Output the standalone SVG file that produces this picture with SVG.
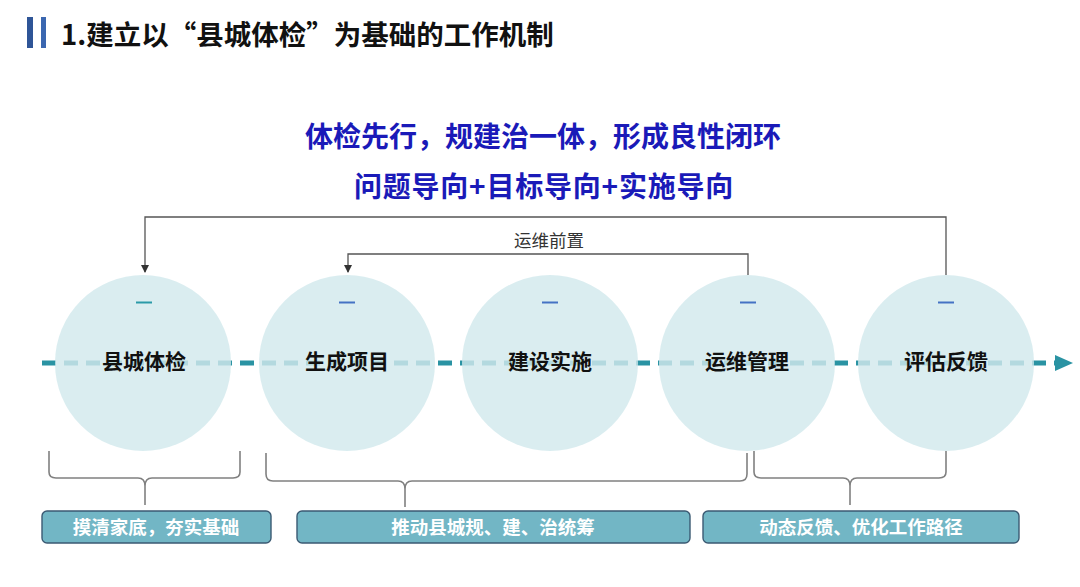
<svg xmlns="http://www.w3.org/2000/svg" width="1080" height="587" viewBox="0 0 1080 587">
<style>
.cjk{font-family:"Noto Sans CJK SC","Noto Sans",sans-serif}
.title{font-size:27.5px;font-weight:700;fill:#111}
.head{font-size:28px;font-weight:700;fill:#1a1ab8;text-anchor:middle}
.node circle{fill:rgb(210,233,237);fill-opacity:0.82}
.lbl{font-size:21px;font-weight:700;fill:#111;text-anchor:middle}
.mark{stroke:#4472c4;stroke-width:2}
.fb{fill:none;stroke:#555;stroke-width:1.3}
.brace{fill:none;stroke:#808080;stroke-width:1.6}
.box rect{fill:#72b6c5;stroke:#3b5a73;stroke-width:1.4}
.btxt{font-size:18.5px;font-weight:700;fill:#fff;text-anchor:middle}
</style>
<defs>
<marker id="ah" markerWidth="8" markerHeight="8" refX="7" refY="4" orient="auto" markerUnits="userSpaceOnUse">
<path d="M0,0 L8,4 L0,8 Z" fill="#333"/>
</marker>
</defs>
<rect width="1080" height="587" fill="#fff"/>
<g id="title">
<rect x="27" y="17" width="6" height="31" fill="#2f5597"/>
<rect x="41" y="17" width="5" height="31" fill="#3b67b0"/>
<text class="cjk title" x="61" y="45">1.建立以“县城体检”为基础的工作机制</text>
</g>
<g id="headings">
<text class="cjk head" x="543" y="147">体检先行，规建治一体，形成良性闭环</text>
<text class="cjk head" x="544" y="197" letter-spacing="0.8">问题导向+目标导向+实施导向</text>
</g>
<g id="connectors">
<line x1="42" y1="363" x2="1058" y2="363" stroke="#2a93a3" stroke-width="5" stroke-dasharray="14 8"/>
<path d="M1055,355 L1073,363 L1055,371 Z" fill="#2a93a3"/>
<path class="fb" d="M946,275 V217 H145 V272" marker-end="url(#ah)"/>
<path class="fb" d="M748,275 V254 H348 V272" marker-end="url(#ah)"/>
<text class="cjk" x="549" y="247" font-size="17.5" fill="#333" text-anchor="middle">运维前置</text>
</g>
<g id="n1" class="node"><circle cx="143" cy="363" r="88"/><line x1="136" y1="302.5" x2="152" y2="302.5" stroke="#2a9aa8" stroke-width="2"/><text class="cjk lbl" x="144" y="369">县城体检</text></g>
<g id="n2" class="node"><circle cx="347" cy="363" r="88"/><line class="mark" x1="339" y1="302.5" x2="355" y2="302.5"/><text class="cjk lbl" x="347" y="369">生成项目</text></g>
<g id="n3" class="node"><circle cx="550" cy="363" r="88"/><line class="mark" x1="542" y1="302.5" x2="558" y2="302.5"/><text class="cjk lbl" x="550" y="369">建设实施</text></g>
<g id="n4" class="node"><circle cx="747" cy="363" r="88"/><line class="mark" x1="740" y1="302.5" x2="756" y2="302.5"/><text class="cjk lbl" x="747" y="369">运维管理</text></g>
<g id="n5" class="node"><circle cx="946" cy="363" r="88"/><line class="mark" x1="938" y1="302.5" x2="954" y2="302.5"/><text class="cjk lbl" x="946" y="369">评估反馈</text></g>
<g id="braces">
<path class="brace" d="M49,451 V472 Q49,478 56,478 H138 Q145,478 145,486 V505 M145,486 Q145,478 152,478 H233 Q240,478 240,472 V451"/>
<path class="brace" d="M266,453 V474 Q266,481 273,481 H398 Q405,481 405,489 V507 M405,489 Q405,481 412,481 H740 Q747,481 747,474 V453"/>
<path class="brace" d="M754,451 V472 Q754,478 761,478 H843 Q850,478 850,486 V505 M850,486 Q850,478 857,478 H939 Q946,478 946,472 V451"/>
</g>
<g id="b1" class="box"><rect x="42" y="511" width="229" height="32" rx="5"/><text class="cjk btxt" x="156" y="533.5">摸清家底，夯实基础</text></g>
<g id="b2" class="box"><rect x="297" y="511" width="393" height="32" rx="5"/><text class="cjk btxt" x="493" y="533.5">推动县城规、建、治统筹</text></g>
<g id="b3" class="box"><rect x="703" y="511" width="316" height="32" rx="5"/><text class="cjk btxt" x="861" y="533.5">动态反馈、优化工作路径</text></g>
</svg>
